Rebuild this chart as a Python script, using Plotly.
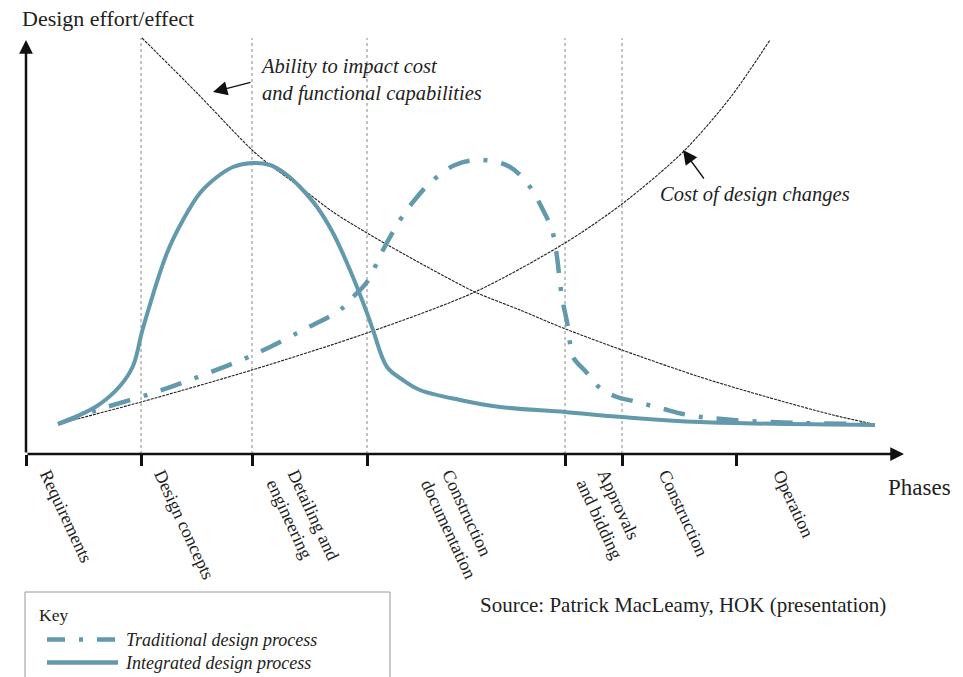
import plotly.graph_objects as go

# ---------------- data ----------------
phase_bounds = [0, 115, 226, 341, 539, 596, 710]
phase_labels = ["Requirements", "Design concepts", "Detailing and<br>engineering",
                "Construction<br>documentation", "Approvals<br>and bidding",
                "Construction", "Operation"]

ability_x = [116, 171, 226, 244, 274, 307, 341, 394, 449, 494, 537, 596, 674, 741, 807, 847]
ability_y = [416, 361, 304, 289, 267, 242, 221, 191, 162, 144, 126, 104, 77, 57, 39, 30]

cost_x = [32, 115, 226, 341, 449, 539, 596, 657, 704, 744]
cost_y = [30, 52, 84, 121, 162, 211, 250, 302, 356, 414]

integrated_x = [32, 71, 94, 107, 117, 141, 157, 174, 191, 207, 226, 244, 261, 274,
                291, 307, 324, 341, 347, 361, 377, 394, 434, 474, 539, 596, 674, 849]
integrated_y = [30, 48, 68, 88, 126, 201, 234, 261, 277, 287, 291, 289, 279, 267,
                247, 221, 184, 141, 124, 87, 74, 64, 54, 47, 42, 37, 32, 29]

traditional_x = [32, 71, 127, 177, 227, 277, 314, 327, 341, 357, 374, 387, 404, 429,
                 456, 484, 504, 517, 526, 531, 534, 537, 541, 544, 547, 561, 574, 591,
                 607, 634, 662, 707, 774, 847]
traditional_y = [30, 44, 61, 79, 99, 124, 144, 157, 172, 204, 234, 252, 271, 289,
                 294, 287, 267, 244, 224, 197, 171, 151, 132, 111, 97, 81, 66, 57,
                 53, 46, 39, 34, 31, 30]

legend_names = ["Traditional design process", "Integrated design process"]

# ---------------- style / layout helpers ----------------
BLUE = "#6399ad"
DASHDOT = "22px,14px,4px,14px"
SERIF = "Liberation Serif, Times New Roman, serif"
TXT = "#222"
label_dx = [7, 6, 8, 48, 5, 30, 31]   # label offsets from each phase tick
X_MAX, Y_MAX = 880, 420


def xp(v):
    return v / X_MAX


def yp(v):
    return v / Y_MAX


fig = go.Figure()

thin = dict(color="#222", width=1.1, dash="3px,1px", shape="spline", smoothing=0.8)
fig.add_trace(go.Scatter(x=ability_x, y=ability_y, mode="lines", showlegend=False,
                         line=thin, hoverinfo="skip"))
fig.add_trace(go.Scatter(x=cost_x, y=cost_y, mode="lines", showlegend=False,
                         line=thin, hoverinfo="skip"))
fig.add_trace(go.Scatter(x=traditional_x, y=traditional_y, mode="lines", showlegend=False,
                         name=legend_names[0],
                         line=dict(color=BLUE, width=4.5, dash=DASHDOT,
                                   shape="spline", smoothing=1.0)))
fig.add_trace(go.Scatter(x=integrated_x, y=integrated_y, mode="lines", showlegend=False,
                         name=legend_names[1],
                         line=dict(color=BLUE, width=4, shape="spline", smoothing=1.0)))

# dotted phase boundaries
for b in phase_bounds[1:6]:
    fig.add_shape(type="line", x0=b, x1=b, y0=0, y1=416, xref="x", yref="y",
                  line=dict(color="#888", width=1, dash="dot"), layer="below")

annotations = []
# axes with arrow heads
annotations.append(dict(x=X_MAX - 2, y=0, ax=0, ay=0, xref="x", yref="y", axref="x", ayref="y",
                        text="", showarrow=True, arrowhead=2, arrowsize=1.1, arrowwidth=2.5,
                        arrowcolor="#111", standoff=0))
annotations.append(dict(x=0, y=414, ax=0, ay=0, xref="x", yref="y", axref="x", ayref="y",
                        text="", showarrow=True, arrowhead=2, arrowsize=1.1, arrowwidth=2.5,
                        arrowcolor="#111", standoff=0))

# phase labels (below the axis -> paper coordinates)
for b, dx, lab in zip(phase_bounds, label_dx, phase_labels):
    annotations.append(dict(x=xp(b + dx), y=yp(-10), xref="paper", yref="paper", text=lab,
                            showarrow=False, textangle=65, xanchor="left", yanchor="top",
                            align="left", font=dict(family=SERIF, size=18, color=TXT)))

annotations += [
    dict(x=xp(-6), y=yp(450), xref="paper", yref="paper", text="Design effort/effect",
         showarrow=False, xanchor="left", yanchor="top", font=dict(family=SERIF, size=22, color=TXT)),
    dict(x=xp(860), y=yp(-19), xref="paper", yref="paper", text="Phases", showarrow=False,
         xanchor="left", yanchor="top", font=dict(family=SERIF, size=23, color=TXT)),
    dict(x=232, y=401, xref="x", yref="y",
         text="<i>Ability to impact cost<br>and functional capabilities</i>",
         showarrow=False, xanchor="left", yanchor="top", align="left",
         font=dict(family=SERIF, size=20.5, color=TXT)),
    dict(x=187, y=362, ax=226, ay=372, xref="x", yref="y", axref="x", ayref="y", text="",
         showarrow=True, arrowhead=2, arrowsize=2.2, arrowwidth=1.3, arrowcolor="#111", standoff=0),
    dict(x=632, y=273, xref="x", yref="y", text="<i>Cost of design changes</i>",
         showarrow=False, xanchor="left", yanchor="top",
         font=dict(family=SERIF, size=20.5, color=TXT)),
    dict(x=657, y=304, ax=679, ay=274, xref="x", yref="y", axref="x", ayref="y", text="",
         showarrow=True, arrowhead=2, arrowsize=2.2, arrowwidth=1.3, arrowcolor="#111", standoff=0),
    dict(x=xp(452), y=yp(-137), xref="paper", yref="paper",
         text="Source: Patrick MacLeamy, HOK (presentation)",
         showarrow=False, xanchor="left", yanchor="top",
         font=dict(family=SERIF, size=21, color=TXT)),
    # key
    dict(x=xp(11), y=yp(-149), xref="paper", yref="paper", text="Key", showarrow=False,
         xanchor="left", yanchor="top", font=dict(family=SERIF, size=17.5, color=TXT)),
    dict(x=xp(97), y=yp(-197), xref="paper", yref="paper",
         text="<br>".join("<i>" + n + "</i>" for n in legend_names), showarrow=False,
         xanchor="left", yanchor="middle", align="left",
         font=dict(family=SERIF, size=18, color=TXT)),
]

# key: frame and line samples
fig.add_shape(type="rect", xref="paper", yref="paper",
              x0=xp(-1), x1=xp(364), y0=yp(-245), y1=yp(-138),
              line=dict(color="#999", width=1), fillcolor="rgba(0,0,0,0)")
key_rows = [-185.5, -208.5]
key_dash = [DASHDOT.replace("22px", "18px"), "solid"]
for row, dsh in zip(key_rows, key_dash):
    fig.add_shape(type="line", xref="paper", yref="paper", x0=xp(21), x1=xp(92),
                  y0=yp(row), y1=yp(row), line=dict(color=BLUE, width=4.5, dash=dsh))

fig.update_layout(
    width=963, height=677,
    margin=dict(l=26, r=57, t=34, b=223),
    plot_bgcolor="white", paper_bgcolor="white",
    annotations=annotations,
    showlegend=False,
    hovermode=False,
    xaxis=dict(range=[0, X_MAX], showgrid=False, zeroline=False, showline=False,
               tickvals=phase_bounds, ticks="outside", ticklen=11, tickwidth=3,
               tickcolor="#111", showticklabels=False, fixedrange=True),
    yaxis=dict(range=[0, Y_MAX], showgrid=False, zeroline=False, showline=False,
               showticklabels=False, ticks="", fixedrange=True),
)

# remove the default page margin so the figure fills the window exactly
fig.write_html("out.html", config={"displayModeBar": False, "staticPlot": True},
               post_script="document.body.style.margin='0px';document.body.style.overflow='hidden';")
